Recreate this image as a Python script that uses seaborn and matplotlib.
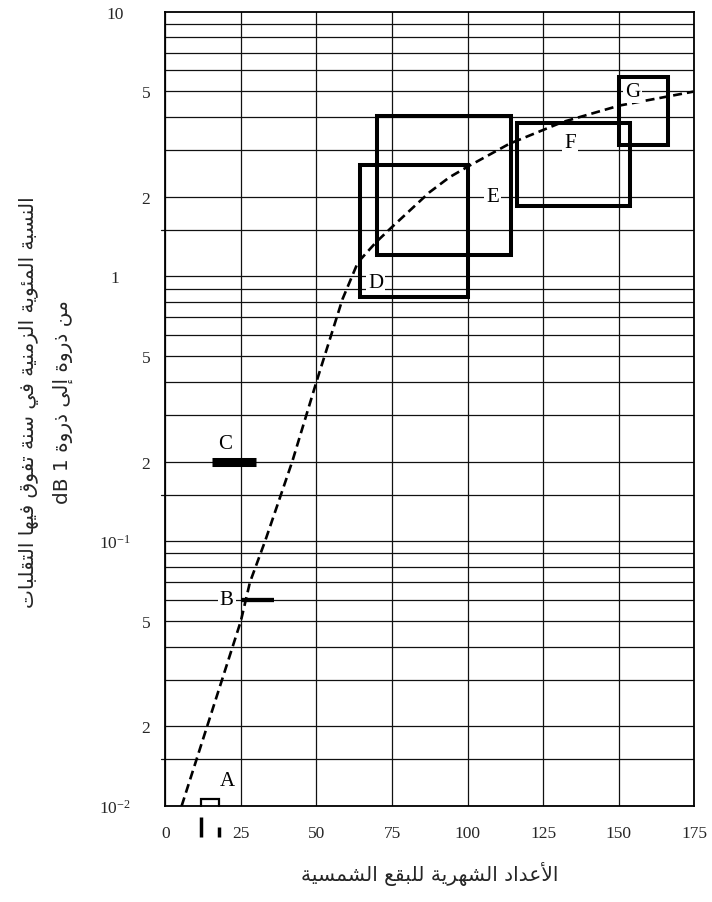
import matplotlib
matplotlib.use("Agg")
import matplotlib.pyplot as plt
from matplotlib.patches import Rectangle
import seaborn as sns
import pandas as pd

# ---------------------------------------------------------------- data
# dashed trend curve (monthly sunspot number vs. percentage of time)
curve_x = [5.4, 25, 28, 33, 42, 50, 58.6, 63.7, 69.8, 74.8, 87.4, 94, 100.6,
           113.8, 131.4, 150.2, 174.7]
curve_y = [0.01, 0.05, 0.07, 0.1, 0.2, 0.4, 0.82, 1.13, 1.35, 1.53, 2.08,
           2.37, 2.62, 3.17, 3.83, 4.42, 4.99]

# measurement ranges drawn as boxes
box_names = ["D", "E", "F", "G"]
box_x0 = [64.3, 70.1, 116.4, 150.0]
box_x1 = [100.1, 114.2, 153.8, 166.2]
box_y0 = [0.834, 1.206, 1.84, 3.15]
box_y1 = [2.64, 4.05, 3.8, 5.69]
box_label_x = [69.6, 108.3, 134.0, 154.6]
box_label_y = [0.95, 2.0, 3.22, 5.0]

# measurements drawn as horizontal bars
bar_names = ["B", "C"]
bar_x0 = [25.0, 15.5]
bar_x1 = [36.0, 30.0]
bar_y = [0.06, 0.2]
bar_label_x = [20.3, 19.7]
bar_label_y = [0.06, 0.233]

# measurement A (upper bound only, falls below the plotted range)
a_x0, a_x1 = 11.7, 17.8
a_top = 0.0106
a_label_xy = (20.5, 0.0125)

x_ticks = [0, 25, 50, 75, 100, 125, 150, 175]
y_ticks = [0.01, 0.02, 0.05, 0.1, 0.2, 0.5, 1, 2, 5, 10]
y_tick_labels = [r"$10^{-2}$", "2", "5", r"$10^{-1}$", "2", "5", "1", "2", "5", "10"]
y_decades = [0.01, 0.1, 1, 10]

x_label = "الأعداد الشهرية للبقع الشمسية"
y_label_1 = "النسبة المئوية الزمنية في سنة تفوق فيها التقلبات"
y_label_2 = "من ذروة إلى ذروة"
y_label_2_unit = "dB 1"

# ------------------------------------------------- Arabic text shaping
# (isolated, final, initial, medial); None = letter does not join forward
FORMS = {
    "ا": ("\uFE8D", "\uFE8E", None, None),
    "أ": ("\uFE83", "\uFE84", None, None),
    "إ": ("\uFE87", "\uFE88", None, None),
    "ب": ("\uFE8F", "\uFE90", "\uFE91", "\uFE92"),
    "ة": ("\uFE93", "\uFE94", None, None),
    "ت": ("\uFE95", "\uFE96", "\uFE97", "\uFE98"),
    "د": ("\uFEA9", "\uFEAA", None, None),
    "ذ": ("\uFEAB", "\uFEAC", None, None),
    "ر": ("\uFEAD", "\uFEAE", None, None),
    "ز": ("\uFEAF", "\uFEB0", None, None),
    "س": ("\uFEB1", "\uFEB2", "\uFEB3", "\uFEB4"),
    "ش": ("\uFEB5", "\uFEB6", "\uFEB7", "\uFEB8"),
    "ع": ("\uFEC9", "\uFECA", "\uFECB", "\uFECC"),
    "ف": ("\uFED1", "\uFED2", "\uFED3", "\uFED4"),
    "ق": ("\uFED5", "\uFED6", "\uFED7", "\uFED8"),
    "ل": ("\uFEDD", "\uFEDE", "\uFEDF", "\uFEE0"),
    "م": ("\uFEE1", "\uFEE2", "\uFEE3", "\uFEE4"),
    "ن": ("\uFEE5", "\uFEE6", "\uFEE7", "\uFEE8"),
    "ه": ("\uFEE9", "\uFEEA", "\uFEEB", "\uFEEC"),
    "و": ("\uFEED", "\uFEEE", None, None),
    "ى": ("\uFEEF", "\uFEF0", None, None),
    "ي": ("\uFEF1", "\uFEF2", "\uFEF3", "\uFEF4"),
    "ئ": ("\uFE89", "\uFE8A", "\uFE8B", "\uFE8C"),
}
LAM_ALEF = {
    "ا": ("\uFEFB", "\uFEFC"),
    "أ": ("\uFEF7", "\uFEF8"),
    "إ": ("\uFEF9", "\uFEFA"),
}


def shape_arabic(text):
    """Return Arabic text in joined presentation forms, in visual order."""
    tokens = []
    i = 0
    while i < len(text):
        c = text[i]
        if c == "ل" and i + 1 < len(text) and text[i + 1] in LAM_ALEF:
            tokens.append(("LA", text[i + 1]))
            i += 2
        else:
            tokens.append((c, None))
            i += 1

    def is_letter(tok):
        return tok[0] == "LA" or tok[0] in FORMS

    def joins_forward(tok):
        return tok[0] in FORMS and FORMS[tok[0]][2] is not None

    out = []
    for k, tok in enumerate(tokens):
        prev = tokens[k - 1] if k > 0 else None
        nxt = tokens[k + 1] if k + 1 < len(tokens) else None
        to_prev = prev is not None and joins_forward(prev) and is_letter(tok)
        to_next = nxt is not None and joins_forward(tok) and is_letter(nxt)
        if tok[0] == "LA":
            iso, fin = LAM_ALEF[tok[1]]
            out.append(fin if to_prev else iso)
        elif tok[0] in FORMS:
            iso, fin, ini, med = FORMS[tok[0]]
            if to_prev and to_next:
                out.append(med)
            elif to_prev:
                out.append(fin)
            elif to_next:
                out.append(ini)
            else:
                out.append(iso)
        else:
            out.append(tok[0])
    return "".join(reversed(out))


# ---------------------------------------------------------------- style
sns.set_theme(style="white")
plt.rcParams["font.family"] = ["Liberation Serif", "DejaVu Sans"]
plt.rcParams["mathtext.default"] = "regular"

W, H = 712, 903
fig = plt.figure(figsize=(W / 100, H / 100), dpi=100)
ax = fig.add_axes([165.3 / W, 1 - 807 / H, (694.3 - 165.3) / W, (807 - 12.7) / H])

ax.set_yscale("log")
ax.set_xlim(0, 175)
ax.set_ylim(0.01, 10)

# grid: every 25 on x, 1..9 and 1.5 of each decade on y
grid_kw = dict(color="#111111", lw=0.9, zorder=1)
for xv in x_ticks:
    ax.axvline(xv, **grid_kw)
for dec in y_decades[:-1]:
    for m in [1, 1.5, 2, 3, 4, 5, 6, 7, 8, 9]:
        ax.axhline(dec * m, **grid_kw)
for dec in y_decades[:-1]:
    ax.plot([-1.4, 0], [dec * 1.5] * 2, color="#111111", lw=0.9, clip_on=False)

for sp in ax.spines.values():
    sp.set_color("black")
    sp.set_linewidth(1.3)
    sp.set_visible(True)

# trend curve
curve = pd.DataFrame({"x": curve_x, "y": curve_y})
sns.lineplot(data=curve, x="x", y="y", ax=ax, sort=False, color="black",
             lw=1.9, linestyle=(0, (3.4, 1.9)), zorder=4)

# boxes
for x0, x1, y0, y1 in zip(box_x0, box_x1, box_y0, box_y1):
    ax.add_patch(Rectangle((x0, y0), x1 - x0, y1 - y0, fill=False,
                           edgecolor="black", lw=2.9, joinstyle="miter",
                           zorder=5))

label_kw = dict(fontsize=15, ha="center", va="center", color="black",
                zorder=6)
white_box = dict(facecolor="white", edgecolor="none", pad=1.5)
for name, lx, ly in zip(box_names, box_label_x, box_label_y):
    ax.text(lx, ly, name, bbox=white_box, **label_kw)

# bars
bar_widths = [3.1, 6.5]
for x0, x1, yv, w in zip(bar_x0, bar_x1, bar_y, bar_widths):
    ax.plot([x0, x1], [yv, yv], color="black", lw=w, solid_capstyle="butt",
            zorder=5)
ax.text(bar_label_x[0], bar_label_y[0], bar_names[0], bbox=white_box, **label_kw)
ax.text(bar_label_x[1], bar_label_y[1], bar_names[1], **label_kw)

# measurement A: bracket at the bottom edge, legs continuing below the axis
ax.plot([a_x0, a_x0, a_x1, a_x1], [0.01, a_top, a_top, 0.01], color="black",
        lw=1.6, solid_joinstyle="miter", clip_on=False, zorder=5)
ax.plot([a_x0, a_x0], [0.00906, 0.00766], color="black", lw=2.5,
        solid_capstyle="butt", clip_on=False)
ax.plot([a_x1, a_x1], [0.00831, 0.00766], color="black", lw=2.5,
        solid_capstyle="butt", clip_on=False)
ax.text(*a_label_xy, "A", **label_kw)

# ticks
ax.set_xticks(x_ticks)
ax.set_xticklabels([str(v) for v in x_ticks], fontsize=12.5)
ax.set_yticks(y_ticks)
ax.set_yticklabels(y_tick_labels, fontsize=12.5)
ax.yaxis.set_minor_locator(matplotlib.ticker.NullLocator())
ax.tick_params(axis="both", which="both", length=0)
ax.tick_params(axis="x", pad=14)
for tick, val in zip(ax.yaxis.get_major_ticks(), y_ticks):
    tick.set_pad(36 if val in y_decades else 14)
for lab in ax.get_yticklabels():
    lab.set_ha("center")
ax.grid(False)

# axis titles
ax.set_xlabel(shape_arabic(x_label), fontsize=14.5, family=["DejaVu Sans"],
              labelpad=14)
ax.set_ylabel(shape_arabic(y_label_1) + "\n" + y_label_2_unit + " "
              + shape_arabic(y_label_2),
              fontsize=14.5, family=["DejaVu Sans"], linespacing=1.9,
              multialignment="center")
ax.yaxis.set_label_coords(-0.174, 0.51)

fig.savefig("out.png", dpi=100)
